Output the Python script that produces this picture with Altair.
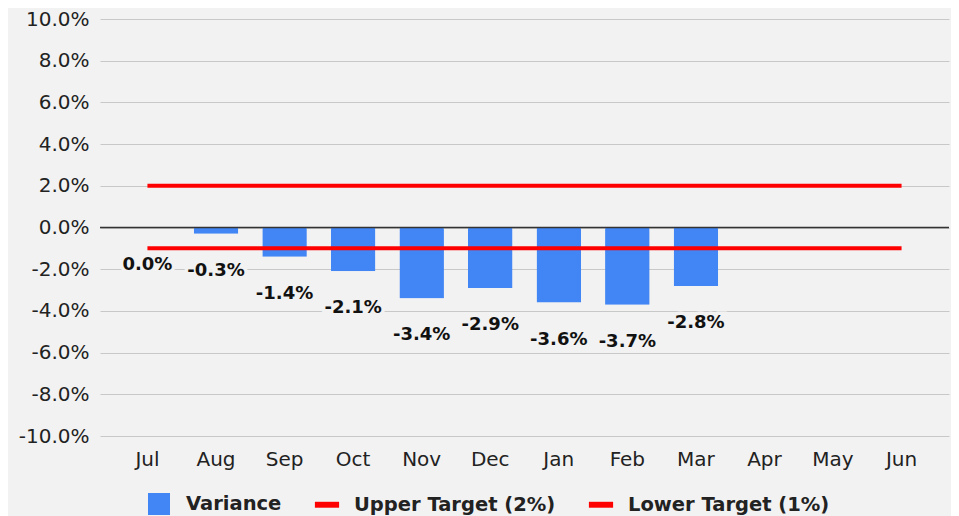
import altair as alt
import pandas as pd

months = ["Jul", "Aug", "Sep", "Oct", "Nov", "Dec", "Jan", "Feb", "Mar", "Apr", "May", "Jun"]
variance = [0.0, -0.3, -1.4, -2.1, -3.4, -2.9, -3.6, -3.7, -2.8, None, None, None]
upper_target = [2.0, 2.0, 2.0, 2.0, 2.0, 2.0, 2.0, 2.0, 2.0, 2.0, 2.0, 2.0]
lower_target = [-1.0, -1.0, -1.0, -1.0, -1.0, -1.0, -1.0, -1.0, -1.0, -1.0, -1.0, -1.0]
series_names = ["Variance", "Upper Target (2%)", "Lower Target (1%)"]
series_colors = ["#4285f4", "#ff0000", "#ff0000"]
y_ticks = [-10, -8, -6, -4, -2, 0, 2, 4, 6, 8, 10]

BG = "#f2f2f2"
FONT = "DejaVu Sans"
PCT = "(datum.value < 0 ? '-' : '') + format(abs(datum.value), '.1f') + '%'"

var_df = pd.DataFrame({"month": months, "value": variance}).dropna()
lines_df = pd.concat([
    pd.DataFrame({"month": months, "value": upper_target, "series": series_names[1]}),
    pd.DataFrame({"month": months, "value": lower_target, "series": series_names[2]}),
])
legend_df = pd.DataFrame({"series": series_names})
zero_df = pd.DataFrame({"value": [0.0]})

x_enc = alt.X(
    "month:N",
    sort=months,
    scale=alt.Scale(domain=months, paddingInner=0.35, paddingOuter=0.367),
    axis=alt.Axis(title=None, labelAngle=0, ticks=False, domain=False, grid=False,
                  labelPadding=13, labelFontSize=20, labelColor="#222222", labelFont=FONT),
)
y_enc = alt.Y(
    "value:Q",
    scale=alt.Scale(domain=[-10, 10], nice=False, zero=False),
    axis=alt.Axis(title=None, values=y_ticks, ticks=False, domain=False, grid=True,
                  gridColor="#c8c8c8", gridWidth=1, labelPadding=11, labelFontSize=20,
                  labelColor="#222222", labelFont=FONT, labelExpr=PCT),
)

bars = alt.Chart(var_df).mark_bar(color="#4285f4", cornerRadiusEnd=2).encode(x=x_enc, y=y_enc)

zero = alt.Chart(zero_df).mark_rule(color="#333333", strokeWidth=1.3).encode(y="value:Q")

lines = alt.Chart(lines_df).mark_line(color="#ff0000", strokeWidth=4).encode(
    x=alt.X("month:N", sort=months), y="value:Q", detail="series:N"
)

label_base = alt.Chart(var_df).transform_calculate(
    label=PCT
).encode(x=alt.X("month:N", sort=months), y="value:Q", text="label:N")

halo = label_base.mark_text(dy=37, fontSize=18, fontWeight="bold", font=FONT,
                            fill=BG, stroke=BG, strokeWidth=7, baseline="middle")
labels = label_base.mark_text(dy=37, fontSize=18, fontWeight="bold", font=FONT,
                              color="#111111", baseline="middle")

legend_props = dict(
    title=None, orient="none", direction="horizontal", legendX=48, legendY=474,
    symbolSize=484, symbolStrokeWidth=0, labelFont=FONT, labelFontSize=19.5,
    labelFontWeight="bold", labelColor="#222222", labelOffset=16, columnPadding=32,
    labelLimit=400, symbolOpacity=1,
)
shape_range = ["square", "M-1.1,-0.27H1.1V0.27H-1.1Z", "M-1.1,-0.27H1.1V0.27H-1.1Z"]
legend_layer = alt.Chart(legend_df).transform_filter("false").mark_point(
    filled=True, opacity=1
).encode(
    color=alt.Color("series:N", scale=alt.Scale(domain=series_names, range=series_colors),
                    legend=alt.Legend(**legend_props)),
    shape=alt.Shape("series:N", scale=alt.Scale(domain=series_names, range=shape_range),
                    legend=alt.Legend(**legend_props)),
)

chart = alt.layer(bars, zero, lines, halo, labels, legend_layer).properties(
    width=849, height=417, background=BG,
    padding={"left": 92, "top": 11, "right": 2, "bottom": 80},
    autosize=alt.AutoSizeParams(type="none"),
).configure_view(stroke=None)

chart.save("out.html", embed_options={"renderer": "svg", "actions": False})
